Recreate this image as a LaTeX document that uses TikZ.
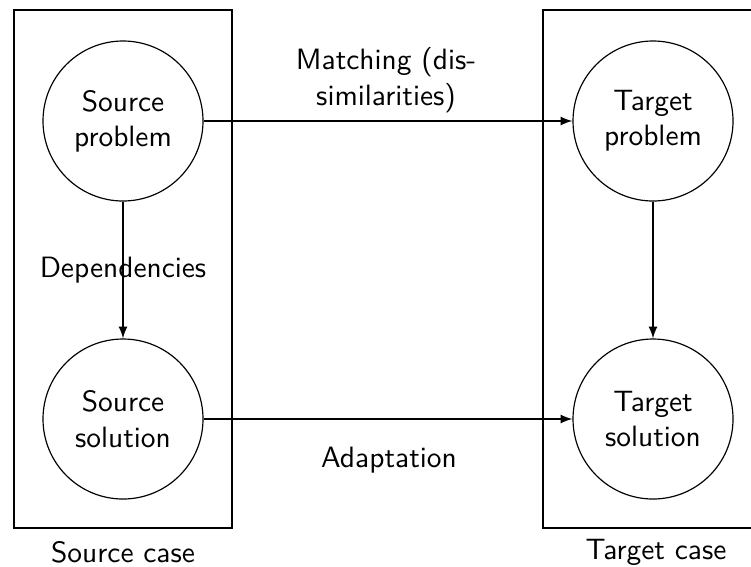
\documentclass[tikz,border=0pt]{standalone}
\usetikzlibrary{arrows}
\begin{document}
\begin{tikzpicture}[x=0.34pt,y=-0.34pt,
  every node/.style={font=\sffamily},
  state/.style={draw,circle,minimum size=160*0.34pt,inner sep=0pt,align=center},
  casebox/.style={draw},
  link/.style={draw,-latex}]
\useasboundingbox (0,0) rectangle (751,566);
% case boxes
\draw[casebox] (14,10) rectangle (232,528);
\draw[casebox] (543,10) rectangle (752,528);
\node (sc) at (123,552) {Source case};
\node (tc) at (656,552) {Target case};
% states
\node[state] (sp) at (123,121) {Source\\problem};
\node[state] (ss) at (123,419) {Source\\solution};
\node[state] (tp) at (653,121) {Target\\problem};
\node[state] (ts) at (653,419) {Target\\solution};
% connectors
\draw[link] (sp) -- (ss) node[midway] (dep) {Dependencies};
\draw[link] (tp) -- (ts);
\draw[link] (sp) -- (tp);
\draw[link] (ss) -- (ts);
\node[align=center] (match) at (386,80) {Matching (dis-\\similarities)};
\node (adapt) at (389,460) {Adaptation};
\end{tikzpicture}
\end{document}
